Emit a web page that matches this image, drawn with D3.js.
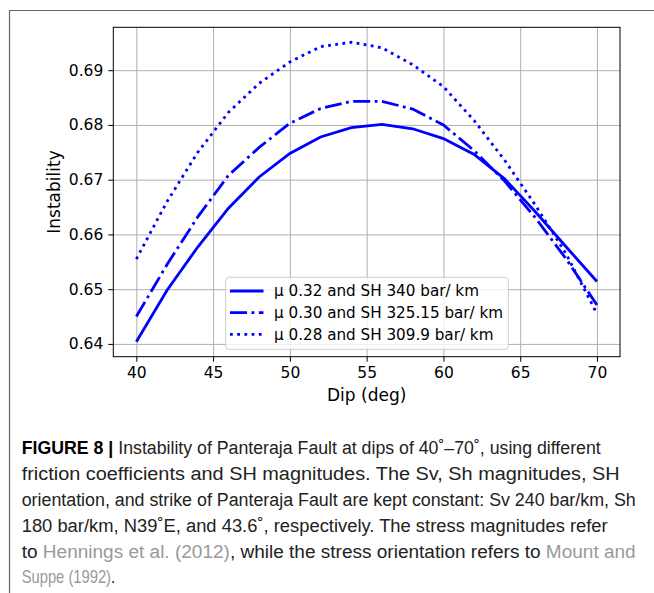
<!DOCTYPE html>
<html><head><meta charset="utf-8">
<script src="https://cdn.jsdelivr.net/npm/d3@7"></script>
<style>body{margin:0;background:#fff}</style>
</head><body><svg id="c" width="654" height="593"></svg>
<script>
const dips = [40,42,44,46,48,50,52,54,56,58,60,62,64,66,68,70];
const mu032 = [0.6404,0.6498,0.6577,0.6648,0.6705,0.6748,0.6778,0.6795,0.6801,0.6793,0.6775,0.6746,0.6701,0.6641,0.6577,0.6514];
const mu030 = [0.6450,0.6545,0.6632,0.6708,0.6759,0.6803,0.6830,0.6843,0.6843,0.6829,0.6800,0.6753,0.6697,0.6630,0.6555,0.6471];
const mu028 = [0.6555,0.6660,0.6750,0.6823,0.6876,0.6915,0.6943,0.6951,0.6941,0.6910,0.6870,0.6808,0.6735,0.6653,0.6564,0.6455];
const seriesLabels = ["μ 0.32 and SH 340 bar/ km","μ 0.30 and SH 325.15 bar/ km","μ 0.28 and SH 309.9 bar/ km"];
const xTicks = [40,45,50,55,60,65,70];
const yTicks = [0.64,0.65,0.66,0.67,0.68,0.69];

const series = [
  {vals: mu032, label: seriesLabels[0], dash: null},
  {vals: mu030, label: seriesLabels[1], dash: "17,4.5,2.8,4.5"},
  {vals: mu028, label: seriesLabels[2], dash: "2.8,4.4"}
];

const svg = d3.select("#c");
const L = 113.3, R = 620, T = 27.3, B = 356.7;
const font = "'DejaVu Sans', sans-serif";

// outer frame
svg.append("path").attr("d", "M9.5,593 V10.5 H654").attr("fill","none").attr("stroke","#666").attr("stroke-width",1.2);

const allY = mu032.concat(mu030, mu028);
const xe = d3.extent(dips), ye = d3.extent(allY);
const xp = (xe[1]-xe[0])*0.05, yp = (ye[1]-ye[0])*0.05;
const x = d3.scaleLinear().domain([xe[0]-xp, xe[1]+xp]).range([L, R]);
const y = d3.scaleLinear().domain([ye[0]-yp, ye[1]+yp]).range([B, T]);

// grid
const g = svg.append("g");
g.append("g").attr("transform", `translate(0,${B})`)
  .call(d3.axisBottom(x).tickValues(xTicks).tickSize(-(B-T)).tickFormat(""))
  .call(a => { a.select(".domain").remove(); a.selectAll("line").attr("stroke","#b0b0b0").attr("stroke-width",1); });
g.append("g").attr("transform", `translate(${L},0)`)
  .call(d3.axisLeft(y).tickValues(yTicks).tickSize(-(R-L)).tickFormat(""))
  .call(a => { a.select(".domain").remove(); a.selectAll("line").attr("stroke","#b0b0b0").attr("stroke-width",1); });

// lines
const line = d3.line().x((d,i) => x(dips[i])).y(d => y(d));
series.forEach(s => {
  svg.append("path").datum(s.vals).attr("d", line)
    .attr("fill","none").attr("stroke","#0000ff").attr("stroke-width",2.8)
    .attr("stroke-dasharray", s.dash);
});

// frame
svg.append("rect").attr("x",L).attr("y",T).attr("width",R-L).attr("height",B-T)
  .attr("fill","none").attr("stroke","#000").attr("stroke-width",1);

// axes
const xa = svg.append("g").attr("transform", `translate(0,${B})`)
  .call(d3.axisBottom(x).tickValues(xTicks).tickSize(5).tickPadding(5).tickFormat(d3.format("d")));
xa.select(".domain").remove();
xa.selectAll("text").attr("font-family", font).attr("font-size", 15.5).attr("fill","#000");
const ya = svg.append("g").attr("transform", `translate(${L},0)`)
  .call(d3.axisLeft(y).tickValues(yTicks).tickSize(5).tickPadding(5).tickFormat(d3.format(".2f")));
ya.select(".domain").remove();
ya.selectAll("text").attr("font-family", font).attr("font-size", 15.5).attr("fill","#000");

svg.append("text").attr("x",(L+R)/2).attr("y",401).attr("text-anchor","middle")
  .attr("font-family",font).attr("font-size",17).text("Dip (deg)");
svg.append("text").attr("transform",`translate(60,${(T+B)/2}) rotate(-90)`).attr("text-anchor","middle")
  .attr("font-family",font).attr("font-size",17).text("Instability");

// legend
const lg = svg.append("g");
lg.append("rect").attr("x",225.7).attr("y",277.3).attr("width",282.6).attr("height",72).attr("rx",3)
  .attr("fill","#fff").attr("fill-opacity",0.8).attr("stroke","#ccc").attr("stroke-width",1);
series.forEach((s,i) => {
  const cy = 291 + i*21.7;
  lg.append("line").attr("x1",230).attr("x2",263.5).attr("y1",cy).attr("y2",cy)
    .attr("stroke","#0000ff").attr("stroke-width",2.8).attr("stroke-dasharray", s.dash);
  lg.append("text").attr("x",274).attr("y",cy).attr("dy","0.35em")
    .attr("font-family",font).attr("font-size",15.2).text(s.label);
});

// caption
const cfont = "'Liberation Sans', Arial, sans-serif";
const capLines = [
  {y:454, w:579, parts:[["FIGURE 8","b"],[" | ","b"],["Instability of Panteraja Fault at dips of 40˚–70˚, using different","n"]]},
  {y:480, w:598, parts:[["friction coefficients and SH magnitudes. The Sv, Sh magnitudes, SH","n"]]},
  {y:506, w:614, parts:[["orientation, and strike of Panteraja Fault are kept constant: Sv 240 bar/km, Sh","n"]]},
  {y:532, w:586, parts:[["180 bar/km, N39˚E, and 43.6˚, respectively. The stress magnitudes refer","n"]]},
  {y:558, w:614, parts:[["to ","n"],["Hennings et al. (2012)","g"],[", while the stress orientation refers to ","n"],["Mount and","g"]]},
  {y:583, w:null, parts:[["Suppe (1992)","g"],[".","n"]]}
];
capLines.forEach(l => {
  const t = svg.append("text").attr("x",21.7).attr("y",l.y).attr("font-family",cfont).attr("font-size",18)
    .attr("fill","#222");
  if (l.w) t.attr("textLength",l.w).attr("lengthAdjust","spacingAndGlyphs");
  else t.attr("transform","translate(21.7,0) scale(0.82,1) translate(-21.7,0)");
  l.parts.forEach(p => {
    t.append("tspan").text(p[0])
      .attr("font-weight", p[1]==="b" ? "bold" : null)
      .attr("fill", p[1]==="g" ? "#999" : (p[1]==="b" ? "#000" : "#222"));
  });
});
</script></body></html>
